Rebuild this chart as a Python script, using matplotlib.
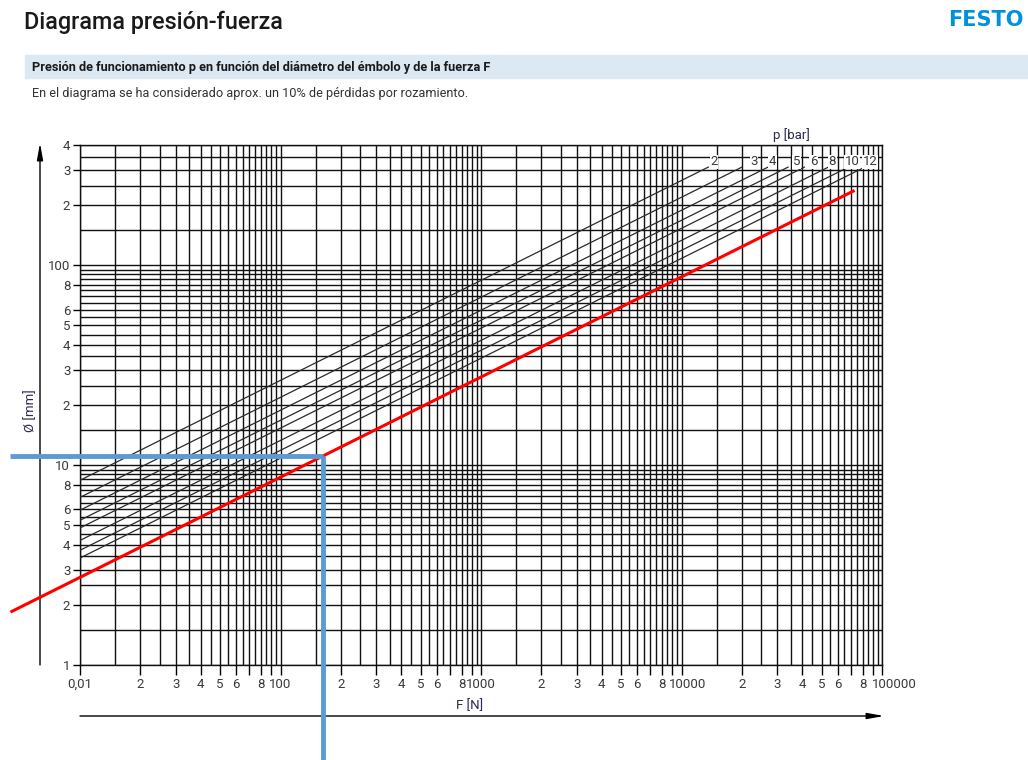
# -*- coding: utf-8 -*-
"""Diagrama presión-fuerza (Festo): diámetro del émbolo frente a fuerza F, log-log."""

import numpy as np
import matplotlib
matplotlib.use("Agg")
from matplotlib import pyplot as plt
from matplotlib.patches import Rectangle
from matplotlib.transforms import ScaledTranslation

W, H = 1028, 760
FONT = ["Roboto", "DejaVu Sans"]
plt.rcParams["font.family"] = FONT

# Rectas de presión: extremos (F [N], Ø [mm])
pressures = [2, 3, 4, 5, 6, 8, 10, 12]
pressure_labels = ["2", "3", "4", "5", "6", "8", "10", "12"]
line_f_start = [10, 10, 10, 10, 10, 10, 10, 10]
line_d_start = [8.4, 6.9, 5.95, 5.3, 4.85, 4.2, 3.75, 3.43]
line_f_end = [13600, 20000, 27000, 34000, 41000, 54000, 68000, 82000]
line_d_end = [310, 310, 310, 310, 310, 310, 310, 310]
label_f = [14500, 23000, 28500, 37500, 45500, 56500, 71000, 87000]
label_d = 330
p_title_pos = (35500, 447)

# Recta roja (sale por la izquierda del gráfico)
red_f = [4.5, 73000]
red_d = [1.84, 237]

# Lectura en azul: Ø ≈ 11 mm -> F ≈ 162 N
blue_h_f = [4.5, 162]
blue_h_d = [11.1, 11.1]
blue_v_f = [162, 162]
blue_v_d = [11.1, 0.3]

# Ejes
x_lim = (10, 100000)
y_lim = (1, 400)
y_ticks = [1, 2, 3, 4, 5, 6, 8, 10, 20, 30, 40, 50, 60, 80, 100, 200, 300, 400]
y_ticklabels = ["1", "2", "3", "4", "5", "6", "8", "10", "2", "3", "4", "5",
                "6", "8", "100", "2", "3", "4"]
x_decades = [10, 100, 1000, 10000]
x_decade_labels = ["0,01", "100", "1000", "10000"]
x_last_label = "100000"
x_digit_labels = {2: "2", 3: "3", 4: "4", 5: "5", 6: "6", 7: "", 8: "8", 9: ""}

COLOR_GRID = "#111111"
COLOR_P = "#2a2a2a"
COLOR_RED = "#FF0000"
COLOR_BLUE = "#5B9BD5"
COLOR_TXT = "#3a3a3a"
COLOR_AXLBL = "#2a2a50"


def fpx(x, y):
    """Píxeles (desde arriba-izquierda) -> fracción de figura."""
    return x / W, 1 - y / H


fig = plt.figure(figsize=(W / 100, H / 100), dpi=100)

# ===== Cabecera =====
fig.text(*fpx(24, 22), "Diagrama presión-fuerza", fontsize=16.8,
         fontweight="medium", color="#1a1a1a", va="center", ha="left")
fig.text(*fpx(1023, 20), "FESTO", fontsize=15, fontweight="bold",
         color="#0091DC", va="center", ha="right", family="DejaVu Sans")
fig.patches.append(Rectangle(fpx(25, 78), (W - 25) / W, 23 / H,
                             transform=fig.transFigure, color="#DCE9F3",
                             zorder=0))
fig.text(*fpx(32, 67), "Presión de funcionamiento p en función del diámetro "
         "del émbolo y de la fuerza F", fontsize=9.2, fontweight="bold",
         color="#1a1a1a", va="center", ha="left")
fig.text(*fpx(32, 94), "En el diagrama se ha considerado aprox. un 10% de "
         "pérdidas por rozamiento.", fontsize=9.2, color="#333333",
         va="center", ha="left")

# ===== Ejes log-log =====
ax = fig.add_axes([80 / W, (H - 665) / H, 802 / W, 520 / H])
ax.set_xscale("log")
ax.set_yscale("log")
ax.set_xlim(x_lim)
ax.set_ylim(y_lim)

# cuadrícula cada 0.5 de mantisa
mant = np.arange(1.0, 10.0, 0.5)
x_grid = [d * m for d in x_decades for m in mant] + [x_lim[1]]
y_grid = [d * m for d in (1, 10, 100) for m in mant if d * m <= y_lim[1]]
for xv in x_grid:
    ax.axvline(xv, color=COLOR_GRID, lw=1.0, zorder=1)
for yv in y_grid:
    ax.axhline(yv, color=COLOR_GRID, lw=1.0, zorder=1)

x_ticks, x_ticklabels = [], []
for d, lab in zip(x_decades, x_decade_labels):
    x_ticks.append(d)
    x_ticklabels.append(lab)
    for m in range(2, 10):
        x_ticks.append(d * m)
        x_ticklabels.append(x_digit_labels[m])
x_ticks.append(x_lim[1])
x_ticklabels.append(x_last_label)

ax.set_xticks(x_ticks)
ax.set_xticklabels(x_ticklabels)
ax.set_xticks([], minor=True)
ax.set_yticks(y_ticks)
ax.set_yticklabels(y_ticklabels)
ax.set_yticks([], minor=True)
ax.tick_params(axis="x", length=7, width=1.0, pad=2, labelsize=9.5,
               labelcolor=COLOR_TXT)
ax.tick_params(axis="y", length=5, width=1.0, pad=2, labelsize=9.5,
               labelcolor=COLOR_TXT)
# las etiquetas de las últimas décadas van algo desplazadas a la derecha
xlabels = ax.get_xticklabels()
xlabels[-10].set_transform(xlabels[-10].get_transform()
                           + ScaledTranslation(6 / 100, 0, fig.dpi_scale_trans))
xlabels[-1].set_transform(xlabels[-1].get_transform()
                          + ScaledTranslation(12 / 100, 0, fig.dpi_scale_trans))
for s in ax.spines.values():
    s.set_linewidth(1.0)
    s.set_color(COLOR_GRID)

# ===== Rectas de presión =====
for f0, d0, f1, d1 in zip(line_f_start, line_d_start, line_f_end, line_d_end):
    ax.plot([f0, f1], [d0, d1], color=COLOR_P, lw=0.9, zorder=3)
for lf, lab in zip(label_f, pressure_labels):
    ax.text(lf, label_d, lab, fontsize=9.5, color=COLOR_TXT, ha="center",
            va="center", zorder=4,
            bbox=dict(boxstyle="square,pad=0.05", fc="white", ec="none"))
ax.text(*p_title_pos, "p [bar]", fontsize=9.5, color=COLOR_AXLBL,
        ha="center", va="center")

# ===== Lecturas en color =====
ax.plot(red_f, red_d, color=COLOR_RED, lw=2.2, zorder=6, clip_on=False,
        solid_capstyle="butt")
ax.plot(blue_h_f, blue_h_d, color=COLOR_BLUE, lw=3.5, zorder=7,
        clip_on=False, solid_capstyle="butt")
ax.plot(blue_v_f, blue_v_d, color=COLOR_BLUE, lw=3.5, zorder=7,
        clip_on=False, solid_capstyle="butt")

# ===== Flechas de los ejes y títulos =====
arrow = dict(arrowstyle="-|>,head_width=0.18,head_length=1.0",
             color="black", lw=1.0, shrinkA=0, shrinkB=0)
ax.annotate("", xy=(40, H - 143), xytext=(40, H - 665),
            xycoords="figure pixels", textcoords="figure pixels",
            arrowprops=arrow)
ax.annotate("", xy=(884, H - 716), xytext=(80, H - 716),
            xycoords="figure pixels", textcoords="figure pixels",
            arrowprops=arrow)
fig.text(*fpx(470, 706), "F [N]", fontsize=9.5, color=COLOR_AXLBL,
         ha="center", va="center")
fig.text(*fpx(31, 411), "Ø [mm]", fontsize=9.5, color=COLOR_AXLBL,
         ha="center", va="center", rotation=90)

fig.savefig("out.png", dpi=100)
